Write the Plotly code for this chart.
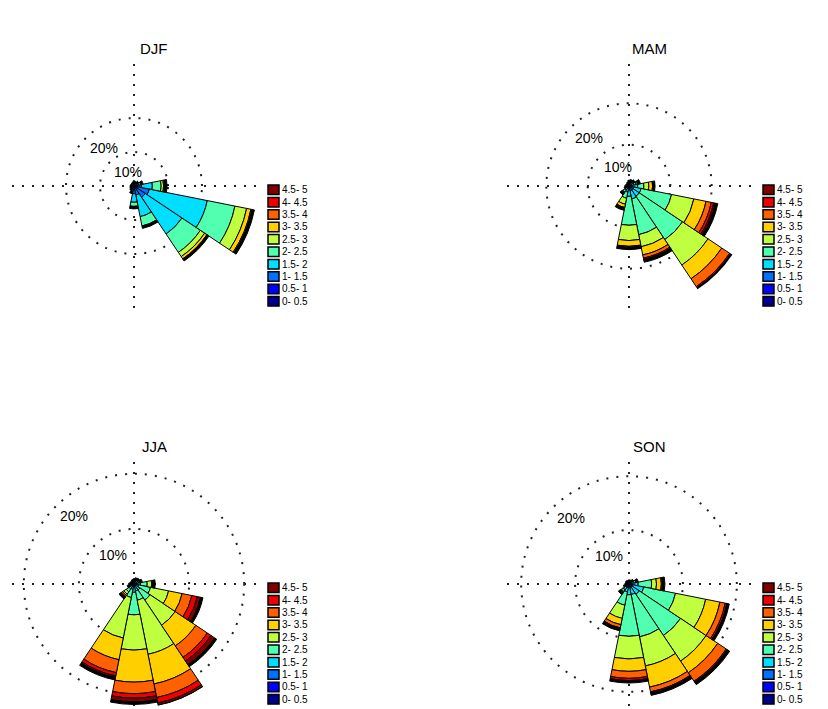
import plotly.graph_objects as go

# Compass directions (degrees, clockwise from north) of the 16 sectors
directions = [0, 22.5, 45, 67.5, 90, 112.5, 135, 157.5,
              180, 202.5, 225, 247.5, 270, 292.5, 315, 337.5]

# Speed classes and their colours (jet, 10 steps)
speed_labels = ["0- 0.5", "0.5- 1", "1- 1.5", "1.5- 2", "2- 2.5",
                "2.5- 3", "3- 3.5", "3.5- 4", "4- 4.5", "4.5- 5"]
speed_colors = ["#00008f", "#0000ff", "#0070ff", "#00dfff", "#50ffaf",
                "#bfff40", "#ffcf00", "#ff6000", "#ef0000", "#800000"]

seasons = ["DJF", "MAM", "JJA", "SON"]

# Frequency (%) per direction (rows, N..NNW) and speed class (columns)
djf = [
    [0.2, 0.3, 0.3, 0, 0, 0, 0, 0, 0, 0],
    [0.2, 0.2, 0.2, 0, 0, 0, 0, 0, 0, 0],
    [0.2, 0.3, 0.4, 0.1, 0, 0, 0, 0, 0, 0],
    [0.2, 0.4, 0.8, 0.6, 0, 0, 0, 0, 0, 0],
    [0.2, 0.5, 1.5, 3.2, 2.6, 0.7, 0.3, 0, 0, 0],
    [0.3, 0.8, 3.5, 17.4, 8.3, 3.5, 1.3, 0.3, 0, 0],
    [0.3, 0.7, 3.0, 13.0, 6.5, 1.5, 0.8, 0, 0, 0],
    [0.2, 0.5, 2.0, 6.5, 2.8, 0, 0, 0, 0, 0],
    [0.3, 0.5, 1.5, 2.5, 1.2, 0, 0, 0, 0, 0],
    [0.2, 0.4, 0.6, 0.4, 0, 0, 0, 0, 0, 0],
    [0.2, 0.3, 0.3, 0, 0, 0, 0, 0, 0, 0],
    [0.2, 0.2, 0.1, 0, 0, 0, 0, 0, 0, 0],
    [0.2, 0.2, 0, 0, 0, 0, 0, 0, 0, 0],
    [0.1, 0.2, 0, 0, 0, 0, 0, 0, 0, 0],
    [0.1, 0.2, 0, 0, 0, 0, 0, 0, 0, 0],
    [0.1, 0.2, 0.1, 0, 0, 0, 0, 0, 0, 0],
]
mam = [
    [0.1, 0.2, 0.3, 0.2, 0, 0, 0, 0, 0, 0],
    [0.1, 0.2, 0.3, 0.3, 0.1, 0, 0, 0, 0, 0],
    [0.1, 0.2, 0.3, 0.4, 0.2, 0, 0, 0, 0, 0],
    [0.1, 0.2, 0.4, 0.6, 0.5, 0.3, 0.1, 0, 0, 0],
    [0.1, 0.2, 0.6, 1.2, 1.5, 1.2, 0.9, 0, 0, 0],
    [0.1, 0.3, 0.8, 1.8, 7.5, 5.5, 3.0, 1.3, 0.6, 0.4],
    [0.1, 0.3, 0.8, 1.8, 12.6, 7.4, 4.0, 2.3, 0.3, 0],
    [0.1, 0.3, 0.8, 2.0, 8.8, 3.0, 2.0, 0.8, 0.3, 0.1],
    [0.1, 0.3, 0.6, 1.5, 7.0, 3.7, 1.4, 0.2, 0, 0],
    [0.1, 0.2, 0.4, 0.8, 1.5, 1.5, 0.8, 0.1, 0, 0],
    [0.1, 0.2, 0.4, 0.6, 0.5, 0.2, 0, 0, 0, 0],
    [0.1, 0.2, 0.2, 0.1, 0, 0, 0, 0, 0, 0],
    [0.1, 0.2, 0.1, 0, 0, 0, 0, 0, 0, 0],
    [0.1, 0.1, 0, 0, 0, 0, 0, 0, 0, 0],
    [0.1, 0.1, 0, 0, 0, 0, 0, 0, 0, 0],
    [0.1, 0.2, 0.1, 0, 0, 0, 0, 0, 0, 0],
]
jja = [
    [0.1, 0.2, 0.2, 0, 0, 0, 0, 0, 0, 0],
    [0.1, 0.2, 0.3, 0.1, 0, 0, 0, 0, 0, 0],
    [0.1, 0.2, 0.3, 0.2, 0, 0, 0, 0, 0, 0],
    [0.1, 0.2, 0.3, 0.3, 0.2, 0, 0, 0, 0, 0],
    [0.1, 0.2, 0.3, 0.6, 1.2, 0.8, 0.2, 0, 0, 0],
    [0.05, 0.1, 0.2, 0.5, 2.2, 3.35, 2.5, 1.8, 1.0, 0.6],
    [0.05, 0.15, 0.3, 0.8, 2.2, 5.5, 4.5, 2.5, 0.8, 0.8],
    [0.05, 0.15, 0.3, 0.8, 1.7, 10.0, 5.5, 2.5, 1.0, 0.4],
    [0.05, 0.15, 0.3, 1.0, 4.1, 6.4, 5.8, 2.1, 0.8, 0.7],
    [0.05, 0.15, 0.3, 0.5, 1.5, 7.5, 4.0, 2.4, 0.6, 0.3],
    [0.1, 0.2, 0.3, 0.5, 0.6, 0.5, 0.3, 0.3, 0, 0],
    [0.1, 0.2, 0.3, 0.2, 0, 0, 0, 0, 0, 0],
    [0.1, 0.2, 0.2, 0, 0, 0, 0, 0, 0, 0],
    [0.1, 0.1, 0.1, 0, 0, 0, 0, 0, 0, 0],
    [0.1, 0.1, 0, 0, 0, 0, 0, 0, 0, 0],
    [0.1, 0.2, 0.1, 0, 0, 0, 0, 0, 0, 0],
]
son = [
    [0.1, 0.1, 0.1, 0, 0, 0, 0, 0, 0, 0],
    [0.1, 0.1, 0.1, 0, 0, 0, 0, 0, 0, 0],
    [0.1, 0.2, 0.2, 0.1, 0, 0, 0, 0, 0, 0],
    [0.1, 0.2, 0.3, 0.4, 0.3, 0, 0, 0, 0, 0],
    [0.1, 0.2, 0.4, 1.0, 2.5, 0.9, 0.9, 0.2, 0, 0],
    [0.1, 0.2, 0.5, 2.0, 6.0, 5.7, 2.7, 1.0, 0.3, 0],
    [0.1, 0.2, 0.4, 1.6, 9.2, 5.7, 2.6, 1.9, 0.2, 0.1],
    [0.1, 0.2, 0.4, 1.3, 8.0, 5.5, 4.0, 0.9, 0.2, 0],
    [0.1, 0.2, 0.4, 1.3, 7.7, 4.2, 2.3, 1.3, 0.4, 0],
    [0.1, 0.2, 0.4, 0.8, 2.5, 2.5, 1.2, 0.6, 0.1, 0],
    [0.1, 0.2, 0.4, 0.6, 0.4, 0.2, 0, 0, 0, 0],
    [0.1, 0.2, 0.2, 0.1, 0, 0, 0, 0, 0, 0],
    [0.1, 0.1, 0.1, 0, 0, 0, 0, 0, 0, 0],
    [0.1, 0.1, 0, 0, 0, 0, 0, 0, 0, 0],
    [0.1, 0.1, 0.1, 0, 0, 0, 0, 0, 0, 0],
    [0.1, 0.1, 0, 0, 0, 0, 0, 0, 0, 0],
]
season_data = [djf, mam, jja, son]

# Outer radius (%) of each rose and the labelled circles
radial_max = [36.5, 30.0, 22.5, 23.0]
circle_levels = [10, 20]

# Layout in pixels
W, H = 828, 709
centers = [(134, 186), (629, 186), (134, 584), (629, 584)]
half = 124  # rose radius in pixels

FONT = "Liberation Sans, Arial, sans-serif"
DOT = "2px,8px"

fig = go.Figure()
shapes, annotations = [], []

for k, (name, data) in enumerate(zip(seasons, season_data)):
    pid = "polar" if k == 0 else f"polar{k + 1}"
    for b in range(len(speed_labels)):
        fig.add_trace(go.Barpolar(
            r=[row[b] for row in data], theta=directions, width=22.5,
            marker=dict(color=speed_colors[b], line=dict(color="black", width=1)),
            subplot=pid, showlegend=False, hoverinfo="skip"))
    # thick dark rim on the outer end of every petal
    rim = radial_max[k] * 2.5 / half
    fig.add_trace(go.Barpolar(
        r=[rim if sum(row) > 0 else 0 for row in data], theta=directions, width=22.5,
        marker=dict(color="black", line=dict(color="black", width=1)),
        subplot=pid, showlegend=False, hoverinfo="skip"))

    cx, cy = centers[k]
    axis_common = dict(showticklabels=False, ticks="", showline=False,
                       gridcolor="#202020", gridwidth=1.5, griddash=DOT,
                       layer="below traces")
    fig.update_layout(**{pid: dict(
        domain=dict(x=[(cx - half) / W, (cx + half) / W],
                    y=[1 - (cy + half) / H, 1 - (cy - half) / H]),
        bgcolor="white", barmode="stack", bargap=0, hole=0,
        radialaxis=dict(range=[0, radial_max[k]], tickvals=circle_levels, **axis_common),
        angularaxis=dict(rotation=90, direction="clockwise",
                         tickvals=[0, 90, 180, 270], **axis_common),
    )})

    # circle labels, placed on the north-west side of each circle
    for lvl in circle_levels:
        rp = half * lvl / radial_max[k] * 0.7071
        annotations.append(dict(
            x=(cx - rp + 3) / W, y=1 - (cy - rp + 1) / H, xref="paper", yref="paper",
            text=f"{lvl}%", showarrow=False, xanchor="left", yanchor="top",
            borderpad=0, font=dict(family=FONT, size=14, color="black")))

    # season title
    annotations.append(dict(
        x=(cx + 20) / W, y=1 - (cy - 138) / H, xref="paper", yref="paper",
        text=name, showarrow=False, xanchor="center", yanchor="middle",
        font=dict(family=FONT, size=15, color="black")))

    # speed legend (highest class on top)
    for i, b in enumerate(reversed(range(len(speed_labels)))):
        y0 = cy - 1 + i * 12.4
        shapes.append(dict(
            type="rect", xref="paper", yref="paper",
            x0=(cx + 134) / W, x1=(cx + 145) / W,
            y0=1 - (y0 + 9.5) / H, y1=1 - y0 / H,
            fillcolor=speed_colors[b], line=dict(color="black", width=1.5)))
        annotations.append(dict(
            x=(cx + 147) / W, y=1 - (y0 + 4.75) / H, xref="paper", yref="paper",
            text=speed_labels[b], showarrow=False, xanchor="left", yanchor="middle",
            borderpad=0, font=dict(family=FONT, size=10, color="black")))

fig.update_layout(
    width=W, height=H, margin=dict(l=0, r=0, t=0, b=0),
    paper_bgcolor="white", plot_bgcolor="white",
    shapes=shapes, annotations=annotations, showlegend=False,
)

fig.write_html("out.html")
